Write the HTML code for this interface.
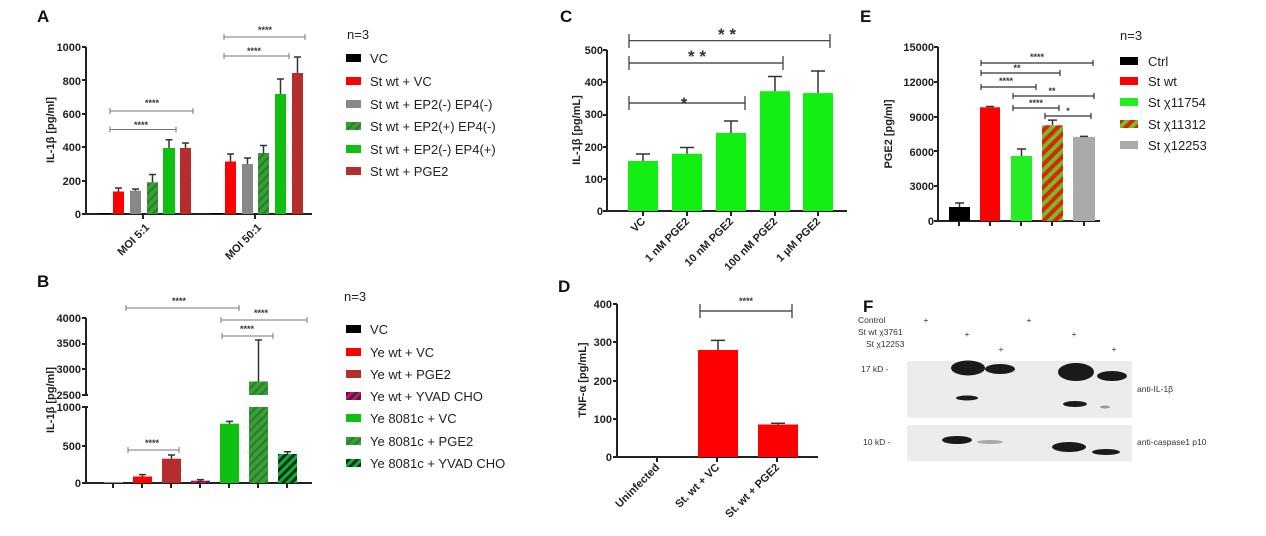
<!DOCTYPE html>
<html><head><meta charset="utf-8"><style>
body{margin:0;background:#fff;}
svg{display:block;font-family:"Liberation Sans",Arial,sans-serif;}
.t{font-size:11px;font-weight:bold;fill:#222}
.lg{font-size:13px;fill:#222}
.pl{font-size:17px;font-weight:bold;fill:#111}
.ax{stroke:#222;stroke-width:2;fill:none}
.sg{stroke:#777;stroke-width:1;fill:none}
.sgd{stroke:#333;stroke-width:1.2;fill:none}
.st{font-size:9px;font-weight:bold;fill:#333}
.eb{stroke:#333;stroke-width:1.5;fill:none}
</style></head><body>
<svg width="1266" height="536" viewBox="0 0 1266 536">
<defs>
<pattern id="hg" width="6" height="6" patternUnits="userSpaceOnUse" patternTransform="rotate(45)"><rect width="6" height="6" fill="#22b022"/><rect width="2.5" height="6" fill="#4a6a4a"/></pattern>
<pattern id="hr" width="6" height="6" patternUnits="userSpaceOnUse" patternTransform="rotate(45)"><rect width="6" height="6" fill="#d42020"/><rect width="2.5" height="6" fill="#884040"/></pattern>
<pattern id="hp" width="6" height="6" patternUnits="userSpaceOnUse" patternTransform="rotate(45)"><rect width="6" height="6" fill="#e01030"/><rect width="3" height="6" fill="#302080"/></pattern>
<pattern id="hd" width="6" height="6" patternUnits="userSpaceOnUse" patternTransform="rotate(45)"><rect width="6" height="6" fill="#10b030"/><rect width="3" height="6" fill="#103020"/></pattern>
<pattern id="hrg" width="8" height="8" patternUnits="userSpaceOnUse" patternTransform="rotate(45)"><rect width="8" height="8" fill="#e02010"/><rect width="4" height="8" fill="#70c020"/></pattern>
</defs>

<!-- Panel A -->
<text class="pl" x="37" y="22">A</text>
<text class="t" transform="translate(54,130) rotate(-90)" text-anchor="middle" font-size="12">IL-1β [pg/ml]</text>
<g class="t" text-anchor="end">
<text x="81" y="51">1000</text><text x="81" y="85">800</text><text x="81" y="118">600</text><text x="81" y="151">400</text><text x="81" y="185">200</text><text x="81" y="218">0</text></g>
<g class="ax"><path d="M86,47 V214 H312"/><path d="M82,47H86M82,80H86M82,114H86M82,147H86M82,181H86M82,214H86M143,214v5M255,214v5"/></g>
<rect x="100" y="213" width="11" height="1" fill="#000"/>
<rect x="113" y="191.5" width="11" height="22.5" fill="#f00"/>
<rect x="130" y="190.7" width="11" height="23.3" fill="#888"/>
<rect x="147" y="182.3" width="11" height="31.7" fill="url(#hg)"/>
<rect x="163" y="148" width="12" height="66" fill="#10c010"/>
<rect x="180" y="148" width="11" height="66" fill="url(#hr)"/>
<rect x="212" y="213" width="11" height="1" fill="#000"/>
<rect x="225" y="161.5" width="11" height="52.5" fill="#f00"/>
<rect x="242" y="164" width="11" height="50" fill="#888"/>
<rect x="258" y="153" width="11" height="61" fill="url(#hg)"/>
<rect x="275" y="94" width="11" height="120" fill="#10c010"/>
<rect x="292" y="73" width="11" height="141" fill="url(#hr)"/>
<g class="eb"><path d="M118.5,191.5V188M115,188h7M135.5,190.7V189M132,189h7M152.5,182.3V174.5M149,174.5h7M169,148V139.7M165.5,139.7h7M185.5,148V143M182,143h7M230.5,161.5V154M227,154h7M247.5,164V158M244,158h7M263.5,153V145.5M260,145.5h7M280.5,94V79M277,79h7M297.5,73V57M294,57h7"/></g>
<g class="t" font-size="11"><text transform="translate(150,228) rotate(-45)" text-anchor="end">MOI 5:1</text><text transform="translate(262,228) rotate(-45)" text-anchor="end">MOI 50:1</text></g>
<g class="sg"><path d="M110,111H193M110,108v6M193,108v6M110,129.5H176M110,126.5v6M176,126.5v6M224,37H305M224,34v6M305,34v6M224,56H289M224,53v6M289,53v6"/></g>
<g class="st" text-anchor="middle"><text x="152" y="106">****</text><text x="141" y="128">****</text><text x="265" y="33">****</text><text x="254" y="54">****</text></g>
<text class="lg" x="347" y="39">n=3</text>
<g><rect x="346" y="54" width="15" height="8" fill="#000"/><rect x="346" y="77" width="15" height="8" fill="#f00"/><rect x="346" y="100" width="15" height="8" fill="#888"/><rect x="346" y="122" width="15" height="8" fill="url(#hg)"/><rect x="346" y="145" width="15" height="8" fill="#10c010"/><rect x="346" y="167" width="15" height="8" fill="url(#hr)"/></g>
<g class="lg"><text x="370" y="63">VC</text><text x="370" y="86">St wt + VC</text><text x="370" y="109">St wt + EP2(-) EP4(-)</text><text x="370" y="131">St wt + EP2(+) EP4(-)</text><text x="370" y="154">St wt + EP2(-) EP4(+)</text><text x="370" y="176">St wt + PGE2</text></g>

<!-- Panel B -->
<text class="pl" x="37" y="287">B</text>
<text class="t" transform="translate(54,400) rotate(-90)" text-anchor="middle" font-size="12">IL-1β [pg/ml]</text>
<g class="t" text-anchor="end"><text x="81" y="322">4000</text><text x="81" y="347">3500</text><text x="81" y="373">3000</text><text x="81" y="399">2500</text><text x="81" y="411">1000</text><text x="81" y="450">500</text><text x="81" y="487">0</text></g>
<g class="ax"><path d="M86,318V395M82,395h6M82,407h6M86,407V483H312M82,318h4M82,344h4M82,369h4M82,446h4M82,483h4"/>
<path d="M113,483v5M142,483v5M171,483v5M200,483v5M229,483v5M258,483v5M287,483v5"/></g>
<rect x="104" y="482" width="19" height="1" fill="#888"/>
<rect x="133" y="476.5" width="19" height="6.5" fill="#f00"/>
<rect x="162" y="458.7" width="19" height="24.3" fill="url(#hr)"/>
<rect x="191" y="480.7" width="19" height="2.3" fill="url(#hp)"/>
<rect x="220" y="423.7" width="19" height="59.3" fill="#10c010"/>
<rect x="249" y="407" width="19" height="76" fill="url(#hg)"/>
<rect x="249" y="381.5" width="19" height="13.5" fill="url(#hg)"/>
<rect x="278" y="454" width="19" height="29" fill="url(#hd)"/>
<g class="eb"><path d="M142.5,476.5V474.6M139,474.6h7M171.5,458.7V455M168,455h7M200.5,480.7V479.6M197,479.6h7M229.5,423.7V421.4M226,421.4h7M258.5,381.5V340M255,340h7M287.5,454V451.8M284,451.8h7"/></g>
<g class="sg"><path d="M126,308H239M126,305v6M239,305v6M221,320H307M221,317v6M307,317v6M222,336H273M222,333v6M273,333v6M128,450H179M128,447v6M179,447v6"/></g>
<g class="st" text-anchor="middle"><text x="179" y="304">****</text><text x="261" y="316">****</text><text x="247" y="332">****</text><text x="152" y="446">****</text></g>
<text class="lg" x="344" y="301">n=3</text>
<g><rect x="346" y="325" width="15" height="8" fill="#000"/><rect x="346" y="348" width="15" height="8" fill="#f00"/><rect x="346" y="370" width="15" height="8" fill="url(#hr)"/><rect x="346" y="392" width="15" height="8" fill="url(#hp)"/><rect x="346" y="414" width="15" height="8" fill="#10c010"/><rect x="346" y="437" width="15" height="8" fill="url(#hg)"/><rect x="346" y="459" width="15" height="8" fill="url(#hd)"/></g>
<g class="lg"><text x="370" y="334">VC</text><text x="370" y="357">Ye wt + VC</text><text x="370" y="379">Ye wt + PGE2</text><text x="370" y="401">Ye wt + YVAD CHO</text><text x="370" y="423">Ye 8081c + VC</text><text x="370" y="446">Ye 8081c + PGE2</text><text x="370" y="468">Ye 8081c + YVAD CHO</text></g>

<!-- Panel C -->
<text class="pl" x="560" y="22">C</text>
<text class="t" transform="translate(580,130) rotate(-90)" text-anchor="middle" font-size="11" font-weight="normal">IL-1β [pg/mL]</text>
<g class="t" text-anchor="end"><text x="603" y="54">500</text><text x="603" y="86">400</text><text x="603" y="118">300</text><text x="603" y="151">200</text><text x="603" y="183">100</text><text x="603" y="215">0</text></g>
<g class="ax"><path d="M607,50V211H847M603,50h4M603,82h4M603,115h4M603,147h4M603,179h4M603,211h4M643,211v5M687,211v5M731,211v5M775,211v5M818,211v5"/></g>
<g fill="#11ee11"><rect x="628" y="161" width="30" height="50"/><rect x="672" y="153.7" width="30" height="57.3"/><rect x="716" y="133" width="30" height="78"/><rect x="760" y="91.2" width="30" height="119.8"/><rect x="803" y="93.1" width="30" height="117.9"/></g>
<g class="eb"><path d="M643,161V154M636,154h14M687,153.7V147.5M680,147.5h14M731,133V121M724,121h14M775,91.2V76.5M768,76.5h14M818,93.1V71M811,71h14"/></g>
<g class="sgd"><path d="M629,40.7H830M629,34v14M830,34v14M629,63H783M629,56v14M783,56v14M629,103H745M629,96v14M745,96v14"/></g>
<g font-size="17" fill="#333" text-anchor="middle" font-weight="bold"><text x="727" y="40">* *</text><text x="697" y="62">* *</text><text x="684" y="109">*</text></g>
<g class="t"><text transform="translate(646,222) rotate(-45)" text-anchor="end">VC</text><text transform="translate(690,222) rotate(-45)" text-anchor="end">1 nM PGE2</text><text transform="translate(734,222) rotate(-45)" text-anchor="end">10 nM PGE2</text><text transform="translate(778,222) rotate(-45)" text-anchor="end">100 nM PGE2</text><text transform="translate(821,222) rotate(-45)" text-anchor="end">1 µM PGE2</text></g>

<!-- Panel D -->
<text class="pl" x="558" y="292">D</text>
<text class="t" transform="translate(586,380) rotate(-90)" text-anchor="middle" font-size="11">TNF-α [pg/mL]</text>
<g class="t" text-anchor="end"><text x="612" y="308">400</text><text x="612" y="346">300</text><text x="612" y="385">200</text><text x="612" y="423">100</text><text x="612" y="461">0</text></g>
<g class="ax"><path d="M617,304V457H818M613,304h4M613,342h4M613,381h4M613,419h4M613,457h4M657,457v5M717,457v5M777,457v5"/></g>
<rect x="698" y="350" width="40" height="107" fill="#f00"/>
<rect x="758" y="424.5" width="40" height="32.5" fill="#f00"/>
<g class="eb"><path d="M718,350V340.4M711,340.4h14M778,424.5V423.3M771,423.3h14"/></g>
<g class="sgd"><path d="M700,311H792M700,304v14M792,304v14"/></g>
<text class="st" x="746" y="304" text-anchor="middle">****</text>
<g class="t"><text transform="translate(660,468) rotate(-45)" text-anchor="end">Uninfected</text><text transform="translate(720,468) rotate(-45)" text-anchor="end">St. wt + VC</text><text transform="translate(780,468) rotate(-45)" text-anchor="end">St. wt + PGE2</text></g>

<!-- Panel E -->
<text class="pl" x="860" y="22">E</text>
<text class="t" transform="translate(892,134) rotate(-90)" text-anchor="middle" font-size="12">PGE2 [pg/ml]</text>
<g class="t" text-anchor="end"><text x="934" y="51">15000</text><text x="934" y="86">12000</text><text x="934" y="121">9000</text><text x="934" y="156">6000</text><text x="934" y="190">3000</text><text x="934" y="225">0</text></g>
<g class="ax"><path d="M938,47V221H1100M934,47h4M934,82h4M934,117h4M934,151h4M934,186h4M934,221h4M959,221v5M990,221v5M1021,221v5M1052,221v5M1084,221v5"/></g>
<rect x="949" y="207" width="21" height="14" fill="#000"/>
<rect x="980" y="107.3" width="20" height="113.7" fill="#f00"/>
<rect x="1011" y="156" width="21" height="65" fill="#22ee22"/>
<rect x="1042" y="125.3" width="21" height="95.7" fill="url(#hrg)"/>
<rect x="1073" y="136.9" width="22" height="84.1" fill="#aaa"/>
<g class="eb"><path d="M959.5,207V203M955,203h9M990,107.3V106.5M986,106.5h8M1021.5,156V149M1017,149h9M1052.5,125.3V120.1M1048,120.1h9M1084,136.9V136.4M1080,136.4h8"/></g>
<g class="sgd" stroke-width="1"><path d="M981,63H1093M981,60v6M1093,60v6M981,73H1060M981,70v6M1060,70v6M981,87H1036M981,84v6M1036,84v6M1013,96H1094M1013,93v6M1094,93v6M1013,108H1059M1013,105v6M1059,105v6M1045,116H1091M1045,113v6M1091,113v6"/></g>
<g class="st" font-size="8" text-anchor="middle"><text x="1037" y="60">****</text><text x="1017" y="71">**</text><text x="1006" y="84">****</text><text x="1052" y="94">**</text><text x="1036" y="106">****</text><text x="1068" y="114">*</text></g>
<text class="lg" x="1120" y="40">n=3</text>
<g><rect x="1120" y="57" width="18" height="8" fill="#000"/><rect x="1120" y="77" width="18" height="8" fill="#f00"/><rect x="1120" y="98" width="18" height="8" fill="#22ee22"/><rect x="1120" y="120" width="18" height="8" fill="url(#hrg)"/><rect x="1120" y="141" width="18" height="8" fill="#aaa"/></g>
<g class="lg"><text x="1148" y="66">Ctrl</text><text x="1148" y="86">St wt</text><text x="1148" y="107">St χ11754</text><text x="1148" y="129">St χ11312</text><text x="1148" y="150">St χ12253</text></g>

<!-- Panel F -->
<text class="pl" x="863" y="312">F</text>
<g font-size="8.5" fill="#333"><text x="858" y="323">Control</text><text x="858" y="335">St wt χ3761</text><text x="866" y="347">St χ12253</text>
<text x="926" y="323" text-anchor="middle">+</text><text x="967" y="337" text-anchor="middle">+</text><text x="1001" y="352" text-anchor="middle">+</text><text x="1029" y="323" text-anchor="middle">+</text><text x="1074" y="337" text-anchor="middle">+</text><text x="1114" y="352" text-anchor="middle">+</text>
<text x="861" y="372">17 kD -</text><text x="863" y="445">10 kD -</text><text x="1137" y="392">anti-IL-1β</text><text x="1137" y="445">anti-caspase1 p10</text></g>
<rect x="907" y="361" width="225" height="57" fill="#ececec"/>
<rect x="907" y="425" width="225" height="36" fill="#ececec"/>
<g fill="#1a1a1a"><ellipse cx="968" cy="368" rx="17" ry="7.5"/><ellipse cx="1000" cy="369" rx="15" ry="5"/><ellipse cx="1076" cy="372" rx="18" ry="9"/><ellipse cx="1112" cy="376" rx="15" ry="5"/><ellipse cx="967" cy="398" rx="11" ry="2.5"/><ellipse cx="1075" cy="404" rx="12" ry="3"/><ellipse cx="1105" cy="407" rx="5" ry="1.5" fill="#999"/>
<ellipse cx="957" cy="440" rx="15" ry="4"/><ellipse cx="990" cy="442" rx="13" ry="2" fill="#aaa"/><ellipse cx="1069" cy="447" rx="17" ry="5"/><ellipse cx="1106" cy="452" rx="14" ry="3"/></g>
</svg>
</body></html>
